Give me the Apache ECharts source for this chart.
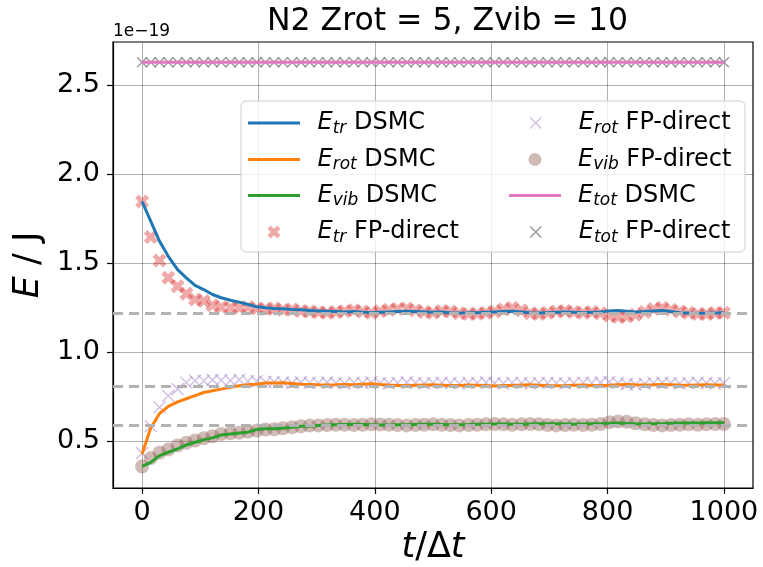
<!DOCTYPE html>
<html><head><meta charset="utf-8">
<script src="https://cdn.jsdelivr.net/npm/echarts@6/dist/echarts.min.js"></script>
<style>html,body{margin:0;padding:0;background:#fff}#c{width:763px;height:567px}</style>
</head><body><div id="c"></div><script>
// ---- data ----
const tSteps = [0,15,30,45,61,76,91,106,121,136,152,167,182,197,212,227,242,258,273,288,303,318,333,348,364,379,394,409,424,439,455,470,485,500,515,530,545,561,576,591,606,621,636,652,667,682,697,712,727,742,758,773,788,803,818,833,848,864,879,894,909,924,939,955,970,985,1000];
const etrDSMC = [1.847,1.735,1.623,1.539,1.464,1.418,1.375,1.352,1.324,1.306,1.292,1.281,1.268,1.255,1.250,1.246,1.244,1.240,1.238,1.234,1.232,1.230,1.228,1.226,1.228,1.225,1.222,1.224,1.226,1.228,1.230,1.228,1.226,1.224,1.226,1.222,1.220,1.221,1.222,1.224,1.226,1.228,1.230,1.226,1.222,1.220,1.222,1.224,1.226,1.224,1.222,1.224,1.226,1.232,1.234,1.230,1.226,1.228,1.232,1.234,1.228,1.222,1.220,1.218,1.218,1.220,1.221];
const erotDSMC = [0.428,0.575,0.655,0.695,0.720,0.738,0.755,0.773,0.783,0.792,0.802,0.811,0.816,0.820,0.826,0.826,0.828,0.824,0.820,0.818,0.816,0.815,0.816,0.818,0.817,0.820,0.822,0.818,0.815,0.813,0.812,0.814,0.815,0.816,0.814,0.812,0.813,0.815,0.814,0.812,0.810,0.812,0.813,0.815,0.816,0.814,0.812,0.811,0.812,0.814,0.815,0.813,0.812,0.814,0.817,0.818,0.816,0.815,0.816,0.818,0.817,0.815,0.814,0.815,0.816,0.815,0.815];
const evibDSMC = [0.357,0.380,0.418,0.437,0.456,0.478,0.493,0.508,0.518,0.534,0.540,0.545,0.550,0.565,0.569,0.569,0.572,0.578,0.583,0.583,0.587,0.590,0.592,0.593,0.594,0.593,0.592,0.590,0.590,0.591,0.592,0.593,0.594,0.594,0.593,0.592,0.592,0.593,0.594,0.595,0.596,0.596,0.595,0.594,0.596,0.597,0.598,0.597,0.596,0.595,0.596,0.597,0.598,0.600,0.601,0.599,0.597,0.596,0.597,0.598,0.600,0.601,0.602,0.602,0.603,0.603,0.603];
const etrFP = [1.847,1.647,1.515,1.418,1.371,1.328,1.296,1.287,1.263,1.253,1.250,1.250,1.253,1.245,1.242,1.245,1.238,1.240,1.232,1.228,1.225,1.222,1.226,1.230,1.236,1.228,1.222,1.230,1.238,1.242,1.245,1.235,1.226,1.222,1.232,1.228,1.218,1.214,1.216,1.222,1.228,1.240,1.250,1.236,1.218,1.214,1.222,1.228,1.232,1.226,1.222,1.226,1.218,1.205,1.198,1.200,1.210,1.226,1.242,1.250,1.238,1.228,1.222,1.215,1.214,1.220,1.222];
const erotFP = [0.432,0.583,0.690,0.755,0.792,0.829,0.839,0.839,0.844,0.842,0.840,0.845,0.838,0.836,0.832,0.834,0.830,0.826,0.830,0.828,0.826,0.830,0.826,0.824,0.828,0.826,0.830,0.826,0.824,0.828,0.830,0.826,0.824,0.826,0.828,0.826,0.824,0.828,0.826,0.830,0.826,0.824,0.828,0.826,0.824,0.826,0.828,0.826,0.824,0.826,0.828,0.826,0.830,0.832,0.826,0.820,0.818,0.822,0.826,0.828,0.826,0.824,0.826,0.828,0.826,0.824,0.826];
const evibFP = [0.357,0.404,0.434,0.452,0.475,0.490,0.503,0.516,0.527,0.540,0.544,0.546,0.553,0.559,0.565,0.566,0.572,0.578,0.583,0.587,0.588,0.590,0.591,0.592,0.590,0.592,0.594,0.593,0.592,0.590,0.588,0.590,0.592,0.594,0.592,0.590,0.588,0.590,0.592,0.594,0.596,0.594,0.592,0.594,0.596,0.594,0.590,0.588,0.590,0.592,0.590,0.592,0.596,0.606,0.610,0.608,0.600,0.594,0.590,0.588,0.590,0.592,0.594,0.592,0.594,0.596,0.596];
const etotDSMC = [2.63,2.63,2.63,2.63,2.63,2.63,2.63,2.63,2.63,2.63,2.63,2.63,2.63,2.63,2.63,2.63,2.63,2.63,2.63,2.63,2.63,2.63,2.63,2.63,2.63,2.63,2.63,2.63,2.63,2.63,2.63,2.63,2.63,2.63,2.63,2.63,2.63,2.63,2.63,2.63,2.63,2.63,2.63,2.63,2.63,2.63,2.63,2.63,2.63,2.63,2.63,2.63,2.63,2.63,2.63,2.63,2.63,2.63,2.63,2.63,2.63,2.63,2.63,2.63,2.63,2.63,2.63];
const etotFP = [2.63,2.63,2.63,2.63,2.63,2.63,2.63,2.63,2.63,2.63,2.63,2.63,2.63,2.63,2.63,2.63,2.63,2.63,2.63,2.63,2.63,2.63,2.63,2.63,2.63,2.63,2.63,2.63,2.63,2.63,2.63,2.63,2.63,2.63,2.63,2.63,2.63,2.63,2.63,2.63,2.63,2.63,2.63,2.63,2.63,2.63,2.63,2.63,2.63,2.63,2.63,2.63,2.63,2.63,2.63,2.63,2.63,2.63,2.63,2.63,2.63,2.63,2.63,2.63,2.63,2.63,2.63];
const eqLevels = [1.223, 0.815, 0.595];
const xTicks = [0, 200, 400, 600, 800, 1000];
const yTicks = [0.5, 1.0, 1.5, 2.0, 2.5];
const xRange = [-50, 1050];
const yRange = [0.236, 2.744];
const seriesNames = ['Etr DSMC','Erot DSMC','Evib DSMC','Etr FP-direct','Erot FP-direct','Evib FP-direct','Etot DSMC','Etot FP-direct'];
const seriesSubs = ['tr','rot','vib','tr','rot','vib','tot','tot'];
const seriesMethods = ['DSMC','DSMC','DSMC','FP-direct','FP-direct','FP-direct','DSMC','FP-direct'];
const titleText = 'N2 Zrot = 5, Zvib = 10';
const offsetText = '1e\u221219';

// ---- styling ----
const F = 'DejaVu Sans';
const XPATH = 'path://M0,1L1,0L2,1L3,0L4,1L3,2L4,3L3,4L2,3L1,4L0,3L1,2Z';
const xPATH = 'path://M0,0L1,1M1,0L0,1';
const C = {
  blue:'#1f77b4', orange:'#ff7f0e', green:'#2ca02c', pink:'#e377c2',
  red:'rgba(214,39,40,0.5)', purple:'rgba(148,103,189,0.5)', brown:'rgba(140,86,75,0.5)', gray:'rgba(127,127,127,0.95)'
};
function pairs(ys){ return tSteps.map((t,i)=>[t, ys[i]]); }

const series = [
  {type:'line', name:'eqlines', data:[], silent:true, z:1,
   markLine:{symbol:['none','none'], silent:true, animation:false, label:{show:false},
     lineStyle:{color:'#b2b2b2', width:3, type:[10,6]}, emphasis:{disabled:true},
     data: eqLevels.map(v=>({yAxis:v}))}},
  {type:'line', name:seriesNames[0], data:pairs(etrDSMC), symbol:'none', lineStyle:{color:C.blue,width:3}, itemStyle:{color:C.blue}},
  {type:'line', name:seriesNames[1], data:pairs(erotDSMC), symbol:'none', lineStyle:{color:C.orange,width:3}, itemStyle:{color:C.orange}},
  {type:'line', name:seriesNames[2], data:pairs(evibDSMC), symbol:'none', lineStyle:{color:C.green,width:3}, itemStyle:{color:C.green}},
  {type:'scatter', name:seriesNames[3], data:pairs(etrFP), symbol:XPATH, symbolSize:14, itemStyle:{color:C.red}},
  {type:'scatter', name:seriesNames[4], data:pairs(erotFP), symbol:xPATH, symbolSize:12, itemStyle:{color:'transparent', borderColor:C.purple, borderWidth:1.5}},
  {type:'scatter', name:seriesNames[5], data:pairs(evibFP), symbol:'circle', symbolSize:14, itemStyle:{color:C.brown}},
  {type:'line', name:seriesNames[6], data:pairs(etotDSMC), symbol:'none', lineStyle:{color:C.pink,width:3}, itemStyle:{color:C.pink}},
  {type:'scatter', name:seriesNames[7], data:pairs(etotFP), symbol:xPATH, symbolSize:10, itemStyle:{color:'transparent', borderColor:C.gray, borderWidth:1.5}}
];

// legend: one component per entry, in two columns
const rich = {
  e:{fontFamily:F, fontStyle:'italic', fontSize:24, lineHeight:28, color:'#000'},
  s:{fontFamily:F, fontStyle:'italic', fontSize:17, lineHeight:17, verticalAlign:'bottom', color:'#000'},
  n:{fontFamily:F, fontSize:24, lineHeight:28, color:'#000'}
};
const kinds = ['line','line','line','X','x','o','line','xg'];
const cols = [0,0,0,0,1,1,1,1];
const rows = [0,1,2,3,0,1,2,3];
const rowY = [123, 159.5, 195.5, 232];
const handleStart = [248, 509];
const textStart = [317.5, 578];
const legends = seriesNames.map((name, k) => {
  const col = cols[k], kind = kinds[k];
  let left, w, h, icon, itemStyle;
  if (kind === 'line') {
    left = handleStart[col]; w = 52; h = 3.2; icon = 'rect';
    itemStyle = {color: series[k+1].lineStyle.color, borderWidth:0};
  } else {
    const s = kind === 'o' ? 13 : (kind === 'X' ? 13 : 11);
    left = handleStart[col] + 26 - s/2; w = s; h = s;
    if (kind === 'X') { icon = XPATH; itemStyle = {color:C.red, borderWidth:0}; }
    else if (kind === 'o') { icon = 'circle'; itemStyle = {color:C.brown, borderWidth:0}; }
    else { icon = xPATH; itemStyle = {color:'transparent', borderColor: kind==='x'?C.purple:C.gray, borderWidth:1.5}; }
  }
  const pl = textStart[col] - (left + w + 5);
  return {
    show:true, left:left, top: rowY[rows[k]] - 14, padding:0, orient:'horizontal',
    itemWidth:w, itemHeight:h, selectedMode:false, z:6,
    itemStyle: itemStyle,
    data:[{name:name, icon:icon, itemStyle:itemStyle}],
    formatter: () => '{e|E}{s|' + seriesSubs[k] + '}{n| ' + seriesMethods[k] + '}',
    textStyle:{fontFamily:F, fontSize:24, lineHeight:28, color:'#000', padding:[0,0,0,pl], rich:rich}
  };
});

const axisFont = {fontFamily:F, fontSize:27, color:'#000'};
const option = {
  animation:false,
  backgroundColor:'#fff',
  title:[
    {text:titleText, left:267, top:6, padding:0,
     textStyle:{fontFamily:F, fontSize:31.5, lineHeight:32, fontWeight:'normal', color:'#000'}},
    {text:offsetText, left:113, top:23, padding:0,
     textStyle:{fontFamily:F, fontSize:17, fontWeight:'normal', color:'#000', lineHeight:17}}
  ],
  grid:{left:113, right:10, top:42, bottom:79, show:true, borderColor:'#000', borderWidth:1.2, backgroundColor:'transparent', outerBoundsMode:'none'},
  xAxis:{type:'value', min:xRange[0], max:xRange[1],
    name:'{i|t}{n|/\u0394}{i|t}', nameLocation:'middle', nameGap:41,
    nameTextStyle:{fontFamily:F, fontSize:35, lineHeight:35, color:'#000',
      rich:{i:{fontFamily:F, fontSize:35, fontStyle:'italic', lineHeight:35, color:'#000'}, n:{fontFamily:F, fontSize:35, lineHeight:35, color:'#000'}}},
    axisLine:{show:true, onZero:false, lineStyle:{color:'#000', width:1.2}},
    axisTick:{show:true, length:6, lineStyle:{color:'#000', width:1.2}, customValues:xTicks},
    axisLabel:{...axisFont, lineHeight:27, margin:11, customValues:xTicks, formatter:v=>String(v)},
    splitLine:{show:true, lineStyle:{color:'rgba(0,0,0,0.35)', width:0.9}}
  },
  yAxis:{type:'value', min:yRange[0], max:yRange[1],
    name:'{i|E}{n| / J}', nameLocation:'middle', nameGap:63, nameRotate:90,
    nameTextStyle:{fontFamily:F, fontSize:35, lineHeight:35, color:'#000',
      rich:{i:{fontFamily:F, fontSize:35, fontStyle:'italic', lineHeight:35, color:'#000'}, n:{fontFamily:F, fontSize:35, lineHeight:35, color:'#000'}}},
    axisLine:{show:true, onZero:false, lineStyle:{color:'#000', width:1.2}},
    axisTick:{show:true, length:6, lineStyle:{color:'#000', width:1.2}, customValues:yTicks},
    axisLabel:{...axisFont, margin:13, customValues:yTicks, formatter:v=>v.toFixed(1)},
    splitLine:{show:true, lineStyle:{color:'rgba(0,0,0,0.35)', width:0.9}}
  },
  legend: legends,
  graphic:[{type:'rect', z:5, silent:true, shape:{x:241, y:101, width:504, height:151, r:5},
    style:{fill:'rgba(255,255,255,0.8)', stroke:'#cccccc', lineWidth:1}}],
  series: series
};
const chart = echarts.init(document.getElementById('c'), null, {renderer:'canvas'});
chart.setOption(option);
</script></body></html>
